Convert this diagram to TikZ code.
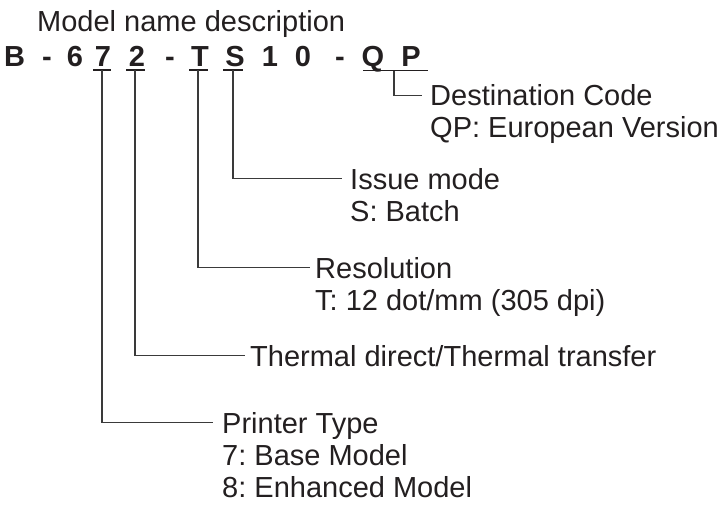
\documentclass[tikz,border=0pt]{standalone}
\usepackage{fontspec}
\setmainfont{Liberation Sans}
\frenchspacing
\definecolor{ink}{HTML}{231F20}
\definecolor{wire}{HTML}{3A3A3A}
\begin{document}
\begin{tikzpicture}[x=1pt,y=-1pt,
  txt/.style={font=\fontsize{29}{33}\selectfont\frenchspacing, text=ink, inner sep=0pt, anchor=base west},
  code/.style={font=\fontsize{29}{33}\selectfont\bfseries, text=ink, inner sep=0pt, anchor=base},
  lead/.style={draw=wire, line width=1.1pt},
  uline/.style={draw=ink, line width=1.3pt}]
\useasboundingbox (0,0) rectangle (722,515);

% title
\node[txt] (title) at (37,31) {Model name description};

% model code characters
\node[code] (cB)  at (14.5,66) {B};
\node[code] (cd1) at (47,66)   {-};
\node[code] (c6)  at (75,66)   {6};
\node[code] (c7)  at (103,66)  {7};
\node[code] (c2)  at (137,66)  {2};
\node[code] (cd2) at (170,66)  {-};
\node[code] (cT)  at (200,66)  {T};
\node[code] (cS)  at (235,66)  {S};
\node[code] (c1)  at (270,66)  {1};
\node[code] (c0)  at (303,66)  {0};
\node[code] (cd3) at (340,66)  {-};
\node[code] (cQ)  at (373,66)  {Q};
\node[code] (cP)  at (411,66)  {P};

% underlines
\draw[uline] (93,70) -- (111,70);
\draw[uline] (126,70) -- (145,70);
\draw[uline] (189,70) -- (208,70);
\draw[uline] (223,70) -- (243,70);
\draw[uline] (363,70.5) -- (428,70.5);

% stem start points
\coordinate (s7) at (102,70);
\coordinate (s2) at (135,70);
\coordinate (sT) at (198,70);
\coordinate (sS) at (233,70);
\coordinate (sQP) at (394,70.5);

% labels
\node[txt] (lQP)  at (430,105.5) {Destination Code};
\node[txt] (lQPb) at (430,137.5) {QP: European Version};
\node[txt] (lS)   at (350,189)   {Issue mode};
\node[txt] (lSb)  at (350,221)   {S: Batch};
\node[txt] (lT)   at (315,278)   {Resolution};
\node[txt] (lTb)  at (315,310)   {T: 12 dot/mm (305 dpi)};
\node[txt] (l2)   at (250,366)   {Thermal direct/Thermal transfer};
\node[txt] (l7)   at (222,433)   {Printer Type};
\node[txt] (l7b)  at (222,465)   {7: Base Model};
\node[txt] (l7c)  at (222,497)   {8: Enhanced Model};

% leaders
\draw[lead] (sQP) |- ([xshift=-8pt,yshift=10.4pt]lQP.base west);
\draw[lead] (sS)  |- ([xshift=-8pt,yshift=10.4pt]lS.base west);
\draw[lead] (sT)  |- ([xshift=-5pt,yshift=10.4pt]lT.base west);
\draw[lead] (s2)  |- ([xshift=-5pt,yshift=10.4pt]l2.base west);
\draw[lead] (s7)  |- ([xshift=-9pt,yshift=10.4pt]l7.base west);
\end{tikzpicture}
\end{document}
